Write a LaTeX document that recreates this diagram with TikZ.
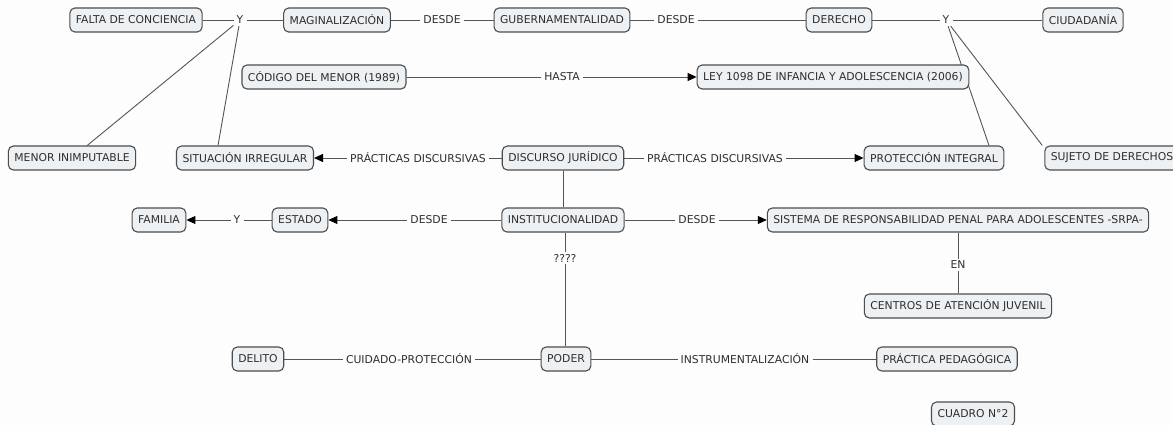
\documentclass[tikz,border=0pt]{standalone}
\usepackage{fontspec}
\setmainfont{DejaVu Sans}
\usetikzlibrary{arrows.meta}
\pgfdeclarelayer{background}
\pgfdeclarelayer{canvas}
\pgfsetlayers{canvas,background,main}
\definecolor{boxfill}{HTML}{EDF1F4}
\definecolor{boxline}{HTML}{4D4D4D}
\definecolor{conn}{HTML}{555555}
\definecolor{txt}{HTML}{2E2E2E}
\definecolor{bg}{HTML}{FDFDFD}
\tikzset{
  box/.style={draw=boxline, line width=1.1pt, fill=boxfill, rounded corners=5pt,
    inner xsep=6pt, minimum height=24pt, text=txt, font=\fontsize{10.8}{12}\selectfont},
  lbl/.style={inner xsep=3pt, inner ysep=2pt, text=txt, font=\fontsize{10.8}{12}\selectfont},
  conline/.style={draw=conn, line width=0.9pt},
  arr/.style={conline, -{Triangle[length=9pt,width=8pt,color=black]}}
}
\begin{document}
\begin{tikzpicture}[x=1pt,y=-1pt]
\begin{pgfonlayer}{canvas}
\fill[bg] (0,0) rectangle (1173,425);
\end{pgfonlayer}
\useasboundingbox (0,0) rectangle (1173,425);
% nodes
\node[box] (falta) at (136,20) {FALTA DE CONCIENCIA};
\node[lbl] (y1) at (240,20) {Y};
\node[box] (magi) at (337,20) {MAGINALIZACIÓN};
\node[lbl] (d1) at (442,20) {DESDE};
\node[box] (gub) at (562,20) {GUBERNAMENTALIDAD};
\node[lbl] (d2) at (676,20) {DESDE};
\node[box] (der) at (839,20) {DERECHO};
\node[lbl] (y2) at (946,20) {Y};
\node[box] (ciu) at (1083,20) {CIUDADANÍA};
\node[box] (cod) at (324,77) {CÓDIGO DEL MENOR (1989)};
\node[lbl] (hasta) at (562,77) {HASTA};
\node[box] (ley) at (833,77) {LEY 1098 DE INFANCIA Y ADOLESCENCIA (2006)};
\node[box] (menor) at (72,158) {MENOR INIMPUTABLE};
\node[box] (sit) at (245,158) {SITUACIÓN IRREGULAR};
\node[lbl] (pd1) at (418,158) {PRÁCTICAS DISCURSIVAS};
\node[box] (disc) at (563,158) {DISCURSO JURÍDICO};
\node[lbl] (pd2) at (715,158) {PRÁCTICAS DISCURSIVAS};
\node[box] (prot) at (934,158) {PROTECCIÓN INTEGRAL};
\node[box] (suj) at (1112,158) {SUJETO DE DERECHOS};
\node[box] (fam) at (159,220) {FAMILIA};
\node[lbl] (y3) at (237,220) {Y};
\node[box] (est) at (300,220) {ESTADO};
\node[lbl] (d3) at (429,220) {DESDE};
\node[box] (inst) at (563,220) {INSTITUCIONALIDAD};
\node[lbl] (d4) at (697,220) {DESDE};
\node[box] (sis) at (958,220) {SISTEMA DE RESPONSABILIDAD PENAL PARA ADOLESCENTES -SRPA-};
\node[lbl] (en) at (958,265) {EN};
\node[box] (cen) at (958,306) {CENTROS DE ATENCIÓN JUVENIL};
\node[lbl] (q) at (565,258) {????};
\node[box] (pod) at (566,359) {PODER};
\node[box] (del) at (258,359) {DELITO};
\node[lbl] (cp) at (409,359) {CUIDADO-PROTECCIÓN};
\node[lbl] (ins) at (745,359) {INSTRUMENTALIZACIÓN};
\node[box] (pp) at (947,359) {PRÁCTICA PEDAGÓGICA};
\node[box] (cua) at (973,414) {CUADRO N°2};
% connectors
\begin{pgfonlayer}{background}
\draw[conline] (falta) -- (y1) -- (magi) -- (d1) -- (gub) -- (d2) -- (der) -- (y2) -- (ciu);
\draw[conline] (y1) -- (menor);
\draw[conline] (y1) -- ([xshift=-27pt]sit.north);
\draw[conline] (y2) -- ([xshift=55pt]prot.north);
\draw[conline] (y2) -- ([xshift=-2pt]suj.north west);
\draw[conline] (cod) -- (hasta);
\draw[arr] (hasta) -- (ley);
\draw[conline] (disc) -- (pd1);
\draw[arr] (pd1) -- (sit);
\draw[conline] (disc) -- (pd2);
\draw[arr] (pd2) -- (prot);
\draw[conline] (disc) -- (inst);
\draw[conline] (inst) -- (d3);
\draw[arr] (d3) -- (est);
\draw[conline] (est) -- (y3);
\draw[arr] (y3) -- (fam);
\draw[conline] (inst) -- (d4);
\draw[arr] (d4) -- (sis);
\draw[conline] (sis) -- (en) -- (cen);
\draw[conline] (inst.south -| q) -- (q) -- (pod.north -| q);
\draw[conline] (del) -- (cp) -- (pod);
\draw[conline] (pod) -- (ins) -- (pp);
\end{pgfonlayer}
\end{tikzpicture}
\end{document}
